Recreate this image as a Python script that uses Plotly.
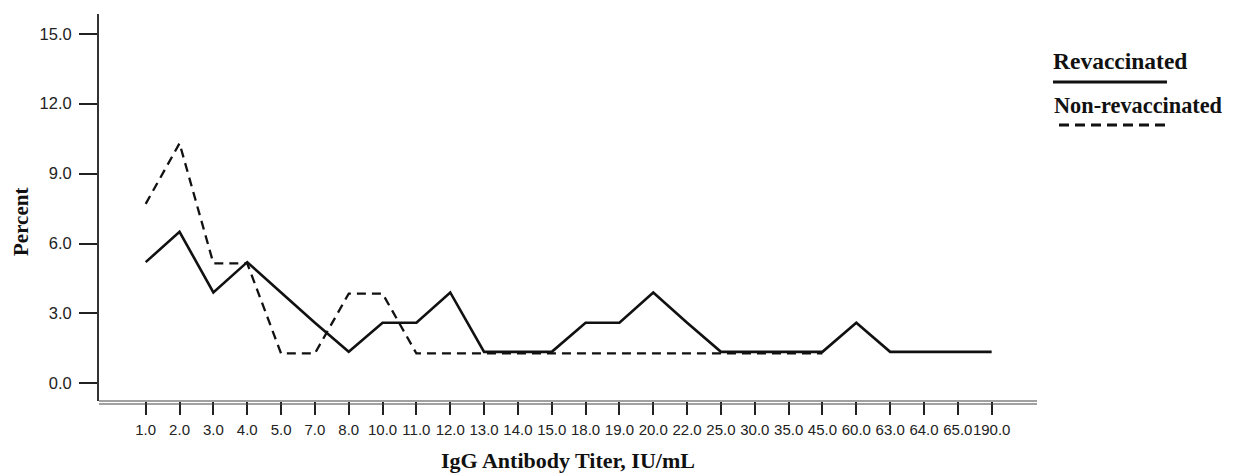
import plotly.graph_objects as go

# ---- data ----
titers = ["1.0", "2.0", "3.0", "4.0", "5.0", "7.0", "8.0", "10.0", "11.0", "12.0",
          "13.0", "14.0", "15.0", "18.0", "19.0", "20.0", "22.0", "25.0", "30.0",
          "35.0", "45.0", "60.0", "63.0", "64.0", "65.0", "190.0"]
revaccinated = [5.2, 6.5, 3.9, 5.2, 3.9, 2.6, 1.35, 2.6, 2.6, 3.9,
                1.35, 1.35, 1.35, 2.6, 2.6, 3.9, 2.6, 1.35, 1.35,
                1.35, 1.35, 2.6, 1.35, 1.35, 1.35, 1.35]
non_revaccinated = [7.7, 10.3, 5.15, 5.15, 1.28, 1.28, 3.85, 3.85, 1.28, 1.28,
                    1.28, 1.28, 1.28, 1.28, 1.28, 1.28, 1.28, 1.28, 1.28,
                    1.28, 1.28, None, None, None, None, None]
y_ticks = [0, 3, 6, 9, 12, 15]
y_tick_text = ["0.0", "3.0", "6.0", "9.0", "12.0", "15.0"]
series_names = ["Revaccinated", "Non-revaccinated"]

# page body has an 8px margin: figure coordinates = page coordinates - 8
OFF = 8
W, H = 1235 - OFF, 475 - OFF
L, R, T, B = 99, 1037, 14, 401   # plot area in page pixels


def px(x):
    return (x - L) / (R - L)


def py(y):
    return (B - y) / (B - T)


fig = go.Figure()
fig.add_trace(go.Scatter(x=titers, y=revaccinated, mode="lines",
                         name=series_names[0],
                         line=dict(color="#111111", width=2.6)))
fig.add_trace(go.Scatter(x=titers, y=non_revaccinated, mode="lines",
                         name=series_names[1],
                         line=dict(color="#111111", width=2.3, dash="9px,6px")))

serif = "Liberation Serif"
sans = "Liberation Sans"

annotations = [
    dict(text="<b>IgG Antibody Titer, IU/mL</b>", xref="paper", yref="paper",
         x=px(568), y=py(460), xanchor="center", yanchor="middle",
         showarrow=False, font=dict(family=serif, size=22, color="#111111")),
    dict(text="<b>Percent</b>", xref="paper", yref="paper",
         x=px(21), y=py(222), xanchor="center", yanchor="middle", textangle=-90,
         showarrow=False, font=dict(family=serif, size=21, color="#111111")),
    dict(text="<b>" + series_names[0] + "</b>", xref="paper", yref="paper",
         x=px(1051), y=py(61), xanchor="left", yanchor="middle",
         showarrow=False, font=dict(family=serif, size=23.5, color="#111111")),
    dict(text="<b>" + series_names[1] + "</b>", xref="paper", yref="paper",
         x=px(1052), y=py(105), xanchor="left", yanchor="middle",
         showarrow=False, font=dict(family=serif, size=22.3, color="#111111")),
]

shapes = [
    # double x axis line
    dict(type="line", xref="paper", yref="paper", x0=0, x1=1, y0=0, y1=0,
         ysizemode="pixel", yanchor=0, line=dict(color="#444444", width=1.2)),
    dict(type="line", xref="paper", yref="paper", x0=0, x1=1, y0=-3, y1=-3,
         ysizemode="pixel", yanchor=0, line=dict(color="#444444", width=1.2)),
    # legend samples
    dict(type="line", xref="paper", yref="paper", x0=px(1053), x1=px(1167),
         y0=py(82), y1=py(82), line=dict(color="#111111", width=3)),
    dict(type="line", xref="paper", yref="paper", x0=px(1059), x1=px(1167),
         y0=py(125), y1=py(125), line=dict(color="#111111", width=3, dash="10px,6px")),
]

fig.update_layout(
    width=W, height=H,
    margin=dict(l=L - OFF, r=1235 - R, t=T - OFF, b=475 - B, pad=0),
    paper_bgcolor="white", plot_bgcolor="white",
    showlegend=False,
    annotations=annotations,
    shapes=shapes,
    xaxis=dict(
        type="category", categoryorder="array", categoryarray=titers,
        range=[-1.38, 26.34], showgrid=False, zeroline=False,
        showline=False, ticks="outside", ticklen=13, tickwidth=2,
        tickcolor="#222222", tickangle=0, ticklabelstandoff=2,
        tickfont=dict(family=sans, size=15, color="#222222"),
        fixedrange=True,
    ),
    yaxis=dict(
        range=[-0.76, 15.85], tickvals=y_ticks, ticktext=y_tick_text,
        showgrid=False, zeroline=False, showline=True, linecolor="#333333",
        linewidth=2, ticks="outside", ticklen=18, tickwidth=2,
        tickcolor="#222222", ticklabelstandoff=4,
        tickfont=dict(family=sans, size=16.5, color="#222222"),
        fixedrange=True,
    ),
)

fig.write_html("out.html")
